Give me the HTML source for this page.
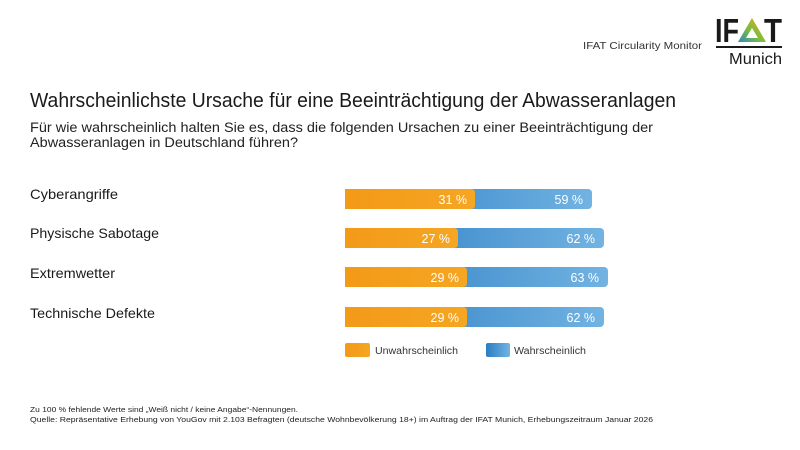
<!DOCTYPE html>
<html><head><meta charset="utf-8"><style>
html,body{margin:0;padding:0;background:#fff;}
svg{display:block;}
text{font-family:"Liberation Sans",sans-serif;}
</style></head><body>
<svg width="800" height="450" viewBox="0 0 800 450" xmlns="http://www.w3.org/2000/svg">
<defs>
<linearGradient id="og" x1="0" y1="0" x2="1" y2="0">
<stop offset="0" stop-color="#f39a17"/><stop offset="1" stop-color="#f5a623"/>
</linearGradient>
<linearGradient id="bg" x1="0" y1="0" x2="1" y2="0">
<stop offset="0" stop-color="#2b7dc3"/><stop offset="1" stop-color="#72b3e2"/>
</linearGradient>
<linearGradient id="tri" x1="0" y1="1" x2="1" y2="0">
<stop offset="0" stop-color="#2f86c8"/><stop offset="0.45" stop-color="#7bbf3a"/><stop offset="1" stop-color="#f3a21c"/>
</linearGradient>
</defs>
<rect width="800" height="450" fill="#fff"/>

<!-- header -->
<text x="583" y="49" font-size="10.5" fill="#333" textLength="119" lengthAdjust="spacingAndGlyphs">IFAT Circularity Monitor</text>
<text x="715" y="42" font-size="33" font-weight="bold" fill="#1a1a1a" textLength="24" lengthAdjust="spacingAndGlyphs">IF</text>
<polygon points="752,18 766,42 738,42" fill="url(#tri)"/>
<polygon points="752,28 758,38 746,38" fill="#fff"/>
<text x="764" y="42" font-size="33" font-weight="bold" fill="#1a1a1a" textLength="18" lengthAdjust="spacingAndGlyphs">T</text>
<rect x="716" y="46" width="66" height="2" fill="#1a1a1a"/>
<text x="729" y="64" font-size="15.5" fill="#1a1a1a" textLength="53" lengthAdjust="spacingAndGlyphs">Munich</text>

<!-- title -->
<text x="30" y="107" font-size="20" fill="#1a1a1a" textLength="646" lengthAdjust="spacingAndGlyphs">Wahrscheinlichste Ursache für eine Beeinträchtigung der Abwasseranlagen</text>
<text x="30" y="132" font-size="13.5" fill="#222" textLength="623" lengthAdjust="spacingAndGlyphs">Für wie wahrscheinlich halten Sie es, dass die folgenden Ursachen zu einer Beeinträchtigung der</text>
<text x="30" y="147" font-size="13.5" fill="#222" textLength="268" lengthAdjust="spacingAndGlyphs">Abwasseranlagen in Deutschland führen?</text>

<!-- labels -->
<text x="30" y="199" font-size="14" fill="#1a1a1a" textLength="88" lengthAdjust="spacingAndGlyphs">Cyberangriffe</text>
<text x="30" y="238" font-size="14" fill="#1a1a1a" textLength="129" lengthAdjust="spacingAndGlyphs">Physische Sabotage</text>
<text x="30" y="278" font-size="14" fill="#1a1a1a" textLength="85" lengthAdjust="spacingAndGlyphs">Extremwetter</text>
<text x="30" y="318" font-size="14" fill="#1a1a1a" textLength="125" lengthAdjust="spacingAndGlyphs">Technische Defekte</text>

<!-- bars -->
<g>
<rect x="345" y="189" width="247" height="20" rx="4" fill="url(#bg)"/>
<rect x="345" y="189" width="10" height="20" fill="#2b7dc3"/>
<path d="M345,189 H471 Q475,189 475,193 V205 Q475,209 471,209 H345 Z" fill="url(#og)"/>
<text x="467" y="204" font-size="12.5" fill="#fff" text-anchor="end">31 %</text>
<text x="583" y="204" font-size="12.5" fill="#fff" text-anchor="end">59 %</text>
</g>
<g>
<rect x="345" y="228" width="259" height="20" rx="4" fill="url(#bg)"/>
<path d="M345,228 H454 Q458,228 458,232 V244 Q458,248 454,248 H345 Z" fill="url(#og)"/>
<text x="450" y="243" font-size="12.5" fill="#fff" text-anchor="end">27 %</text>
<text x="595" y="243" font-size="12.5" fill="#fff" text-anchor="end">62 %</text>
</g>
<g>
<rect x="345" y="267" width="263" height="20" rx="4" fill="url(#bg)"/>
<path d="M345,267 H463 Q467,267 467,271 V283 Q467,287 463,287 H345 Z" fill="url(#og)"/>
<text x="459" y="282" font-size="12.5" fill="#fff" text-anchor="end">29 %</text>
<text x="599" y="282" font-size="12.5" fill="#fff" text-anchor="end">63 %</text>
</g>
<g>
<rect x="345" y="307" width="259" height="20" rx="4" fill="url(#bg)"/>
<path d="M345,307 H463 Q467,307 467,311 V323 Q467,327 463,327 H345 Z" fill="url(#og)"/>
<text x="459" y="322" font-size="12.5" fill="#fff" text-anchor="end">29 %</text>
<text x="595" y="322" font-size="12.5" fill="#fff" text-anchor="end">62 %</text>
</g>

<!-- legend -->
<rect x="345" y="343" width="25" height="14" rx="2" fill="url(#og)"/>
<text x="375" y="354" font-size="10" fill="#333" textLength="83" lengthAdjust="spacingAndGlyphs">Unwahrscheinlich</text>
<rect x="486" y="343" width="24" height="14" rx="2" fill="url(#bg)"/>
<text x="514" y="354" font-size="10" fill="#333" textLength="72" lengthAdjust="spacingAndGlyphs">Wahrscheinlich</text>

<!-- footnote -->
<text x="30" y="412" font-size="7.5" fill="#222" textLength="268" lengthAdjust="spacingAndGlyphs">Zu 100 % fehlende Werte sind „Weiß nicht / keine Angabe“-Nennungen.</text>
<text x="30" y="422" font-size="7.5" fill="#222" textLength="623" lengthAdjust="spacingAndGlyphs">Quelle: Repräsentative Erhebung von YouGov mit 2.103 Befragten (deutsche Wohnbevölkerung 18+) im Auftrag der IFAT Munich, Erhebungszeitraum Januar 2026</text>
</svg>
</body></html>
